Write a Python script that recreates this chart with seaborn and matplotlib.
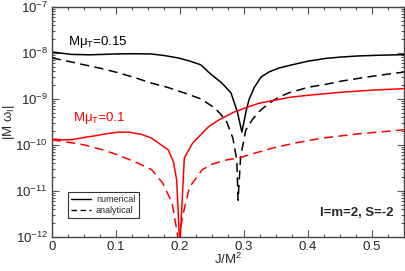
import numpy as np
import pandas as pd
import matplotlib
matplotlib.use("Agg")
import matplotlib.pyplot as plt
from matplotlib.lines import Line2D
from matplotlib.ticker import MultipleLocator, FixedLocator, LogFormatterSciNotation, NullFormatter
import seaborn as sns

# ---- data ----
J_num15 = [0, 0.03, 0.06, 0.1, 0.13, 0.155, 0.175, 0.197, 0.215, 0.233, 0.246, 0.266, 0.280, 0.290, 0.297,
           0.303, 0.308, 0.316, 0.327, 0.34, 0.355, 0.375, 0.40, 0.428, 0.45, 0.479, 0.51, 0.541, 0.55]
w_num15 = [1.05e-8, 9.3e-9, 9.1e-9, 9.5e-9, 9.6e-9, 9.5e-9, 8.8e-9, 7.8e-9, 6.7e-9, 5.5e-9, 3.7e-9, 2.2e-9,
           1.35e-9, 5.2e-10, 1.9e-10, 5.0e-10, 9.5e-10, 1.75e-9, 3.0e-9, 3.9e-9, 4.7e-9, 5.5e-9, 6.6e-9,
           7.6e-9, 8.1e-9, 8.6e-9, 8.9e-9, 9.1e-9, 9.2e-9]

J_ana15 = [0, 0.025, 0.051, 0.08, 0.104, 0.13, 0.156, 0.18, 0.207, 0.233, 0.255, 0.272, 0.283, 0.289, 0.291,
           0.295, 0.303, 0.313, 0.323, 0.339, 0.355, 0.37, 0.401, 0.43, 0.453, 0.5, 0.541, 0.55]
w_ana15 = [7.8e-9, 6.6e-9, 5.5e-9, 4.5e-9, 3.7e-9, 2.9e-9, 2.2e-9, 1.8e-9, 1.35e-9, 1.0e-9, 6.3e-10, 3.5e-10,
           1.4e-10, 4.7e-11, 6.3e-12, 5.5e-11, 2.1e-10, 3.5e-10, 5.2e-10, 8.0e-10, 1.1e-9, 1.35e-9, 1.8e-9,
           2.1e-9, 2.45e-9, 3.1e-9, 3.7e-9, 3.8e-9]

J_num10 = [0, 0.015, 0.031, 0.05, 0.07, 0.085, 0.104, 0.12, 0.14, 0.156, 0.182, 0.190, 0.195, 0.2, 0.207,
           0.220, 0.235, 0.245, 0.261, 0.285, 0.308, 0.323, 0.35, 0.375, 0.4, 0.453, 0.5, 0.541, 0.55]
w_num10 = [1.35e-10, 1.3e-10, 1.3e-10, 1.45e-10, 1.6e-10, 1.75e-10, 1.9e-10, 1.9e-10, 1.7e-10, 1.4e-10,
           7.8e-11, 4.3e-11, 1.75e-11, 6e-13, 5.2e-11, 1.1e-10, 1.8e-10, 2.5e-10, 3.5e-10, 5.2e-10, 6.8e-10,
           8.0e-10, 9.5e-10, 1.1e-9, 1.2e-9, 1.4e-9, 1.55e-9, 1.65e-9, 1.68e-9]

J_ana10 = [0, 0.025, 0.051, 0.08, 0.104, 0.13, 0.156, 0.173, 0.188, 0.196, 0.198, 0.204, 0.215, 0.235,
           0.25, 0.272, 0.292, 0.31, 0.344, 0.38, 0.421, 0.48, 0.545, 0.55]
w_ana10 = [1.3e-10, 1.15e-10, 1.0e-10, 7.8e-11, 6.0e-11, 4.3e-11, 2.9e-11, 1.5e-11, 5.5e-12, 1.2e-12, 7e-13,
           2.7e-12, 1.2e-11, 2.9e-11, 3.8e-11, 4.7e-11, 5.2e-11, 6.2e-11, 8.5e-11, 1.1e-10, 1.4e-10, 1.75e-10,
           2.1e-10, 2.15e-10]

series_labels = ["numerical", "analytical"]
mass_labels = [r"Mμ$_\mathregular{T}$=0.15", r"Mμ$_\mathregular{T}$=0.1"]
corner_text = "l=m=2, S=-2"
x_ticks = [0, 0.1, 0.2, 0.3, 0.4, 0.5]
x_tick_labels = ["0", "0.1", "0.2", "0.3", "0.4", "0.5"]
y_decades = [-12, -11, -10, -9, -8, -7]

# ---- style ----
sns.set_theme(style="ticks")
plt.rcParams["font.family"] = ["Liberation Sans", "DejaVu Sans"]
plt.rcParams["mathtext.fontset"] = "custom"
plt.rcParams["mathtext.rm"] = "Liberation Sans"
plt.rcParams["mathtext.it"] = "Liberation Sans:italic"
plt.rcParams["mathtext.sf"] = "Liberation Sans"

fig = plt.figure(figsize=(4.05, 2.71), dpi=100)
ax = fig.add_axes([0.128, 0.1255, 0.869, 0.849])

lw = 1.1
specs = [
    (J_num15, w_num15, "black", "-"),
    (J_ana15, w_ana15, "black", "--"),
    (J_num10, w_num10, "red", "-"),
    (J_ana10, w_ana10, "red", "--"),
]
for J, w, c, ls in specs:
    df = pd.DataFrame({"J": J, "w": w})
    sns.lineplot(data=df, x="J", y="w", ax=ax, color=c, linewidth=lw,
                 estimator=None, sort=True, legend=False, linestyle=ls)
for line in ax.get_lines():
    if line.get_linestyle() == "--":
        line.set_dashes((6, 3.5))

ax.set_yscale("log")
ax.set_xlim(0, 0.55)
ax.set_ylim(1e-12, 1e-7)

ax.xaxis.set_major_locator(FixedLocator(x_ticks))
ax.xaxis.set_minor_locator(MultipleLocator(0.025))
major_y = [10.0 ** d for d in y_decades]
minor_y = [k * 10.0 ** d for d in y_decades[:-1] for k in range(2, 10)]
ax.yaxis.set_major_locator(FixedLocator(major_y))
ax.yaxis.set_minor_locator(FixedLocator(minor_y))
ax.yaxis.set_major_formatter(LogFormatterSciNotation())
ax.yaxis.set_minor_formatter(NullFormatter())
ax.set_xticklabels(x_tick_labels)
ax.xaxis.offsetText.set_visible(False)
ax.yaxis.offsetText.set_visible(False)

ax.tick_params(which="both", direction="in", top=True, right=True, labelsize=9.5,
               color="#555555", width=0.8)
ax.tick_params(which="major", length=5, pad=3)
ax.tick_params(which="minor", length=2.5)
for s in ax.spines.values():
    s.set_color("#444444")
    s.set_linewidth(1.0)

ax.set_xlabel(r"J/M$^\mathregular{2}$", fontsize=9.5, labelpad=-1)
ax.set_ylabel(r"|M ω$_\mathregular{I}$|", fontsize=9.5, labelpad=-1)

ax.text(0.025, 1.7e-8, mass_labels[0], color="black", fontsize=9.5, ha="left", va="center")
ax.text(0.033, 3.9e-10, mass_labels[1], color="red", fontsize=9.5, ha="left", va="center")
ax.text(0.97, 0.105, corner_text, transform=ax.transAxes, fontsize=9.5,
        fontweight="bold", ha="right", va="center")

handles = [Line2D([], [], color="black", lw=1.0, linestyle="-"),
           Line2D([], [], color="black", lw=1.0, linestyle=(0, (4, 2.5)))]
leg = ax.legend(handles, series_labels, loc="upper left", bbox_to_anchor=(0.045, 0.195),
                fontsize=6.5, frameon=True, fancybox=False, handlelength=2.2,
                handletextpad=0.6, borderpad=0.35, labelspacing=0.2, borderaxespad=0)
leg.get_frame().set_edgecolor("black")
leg.get_frame().set_linewidth(0.8)

fig.savefig("out.png", dpi=100)
